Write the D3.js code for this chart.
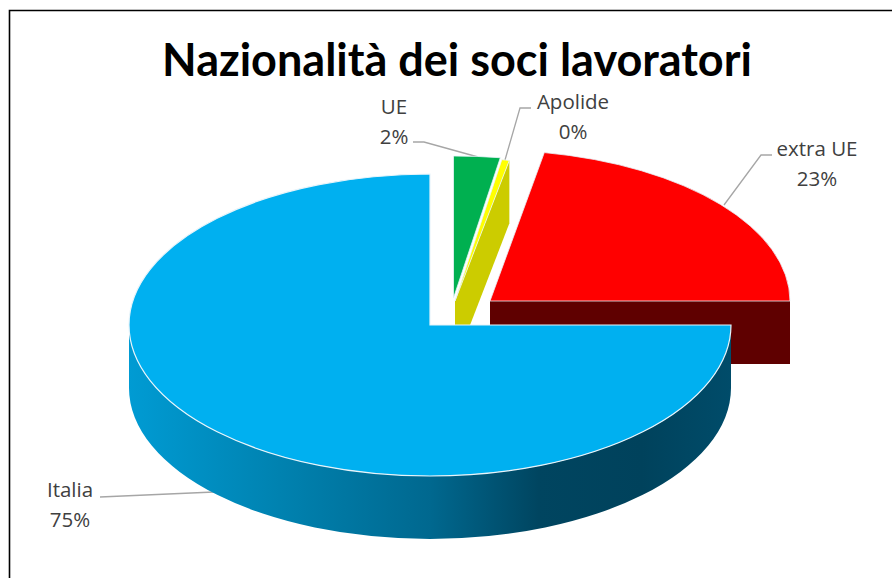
<!DOCTYPE html>
<html>
<head>
    <meta charset="utf-8">
    <script src="https://d3js.org/d3.v7.min.js"></script>
    <style>
      html, body { margin: 0; padding: 0; background: #fff; }
      svg { display: block; }
      .label { font-family: "Open Sans", "Noto Sans", sans-serif; font-size: 20.5px; fill: #404040; }
      .title { font-family: Lato, "Open Sans", sans-serif; font-weight: 700; font-size: 45px; fill: #000; }
    </style>
</head>
<body>
    <div id="chart"></div>
    <script>
      // values (the 3D view squeezes the small slices)
      var categories = ['Italia', 'UE', 'Apolide', 'extra UE'];
      var shares = [75, 2.5, 0.4, 22.1];
      var shareLabels = ['75%', '2%', '0%', '23%'];
      var titleText = 'Nazionalità dei soci lavoratori';

      var topColors = ['#00b0f0', '#00b050', '#ffff00', '#ff0000'];
      var sideColors = ['url(#wall)', '#008a45', '#cccc00', '#5f0000'];

      var width = 892;
      var height = 578;
      var depth = 63;

      // exploded slices: apex and radii of each one on screen
      var layout = [
        { cx: 430, cy: 325, rx: 301, ry: 151 },
        { cx: 453.5, cy: 298, rx: 300, ry: 142 },
        { cx: 455, cy: 301, rx: 300, ry: 143 },
        { cx: 490, cy: 301, rx: 300, ry: 151 }
      ];

      // label anchors and their leader lines
      var labelPos = [
        { x: 70, y: 497, line: [[100, 497], [214, 492]] },
        { x: 394, y: 114, line: [[413, 142], [424, 142], [478, 157]] },
        { x: 573, y: 109, line: [[531, 108], [520, 108], [505, 160]] },
        { x: 817, y: 156, line: [[772, 155], [761, 155], [724, 205]] }
      ];

      var svg = d3.select('#chart').append('svg')
        .attr('width', width)
        .attr('height', height);

      var grad = svg.append('defs').append('linearGradient')
        .attr('id', 'wall')
        .attr('gradientUnits', 'userSpaceOnUse')
        .attr('x1', 129).attr('x2', 732).attr('y1', 0).attr('y2', 0);
      [[0, '#009bd3'], [0.25, '#0082b0'], [0.5, '#00688f'], [0.68, '#004560'], [0.85, '#00425c'], [1, '#004c6a']]
        .forEach(function(s) {
          grad.append('stop').attr('offset', s[0]).attr('stop-color', s[1]);
        });

      // frame, open on the right and the bottom
      svg.append('path')
        .attr('d', 'M9.5,578V10.5H892')
        .attr('fill', 'none')
        .attr('stroke', '#000')
        .attr('stroke-width', 1.6);

      svg.append('text')
        .attr('class', 'title')
        .attr('x', 457)
        .attr('y', 76)
        .attr('text-anchor', 'middle')
        .text(titleText);

      var pie = d3.pie()
        .value(function(d) { return d; })
        .sort(null)
        .startAngle(Math.PI / 2)
        .endAngle(Math.PI * 2.5);

      var slices = pie(shares);

      // unit arc, stretched into an ellipse per slice
      var arc = d3.arc().innerRadius(0).outerRadius(1);

      function rim(i, a) {
        var l = layout[i];
        return [l.cx + l.rx * Math.sin(a), l.cy - l.ry * Math.cos(a)];
      }

      // side surface of a slice: a cut face, or the curved wall for Italia
      function sidePath(d, i) {
        var l = layout[i];
        if (i === 0) {
          var a = rim(0, d.startAngle);
          var b = rim(0, 3 * Math.PI / 2);
          return 'M' + a + 'A' + l.rx + ',' + l.ry + ' 0 0 1 ' + b +
            'V' + (b[1] + depth) +
            'A' + l.rx + ',' + l.ry + ' 0 0 0 ' + [a[0], a[1] + depth] + 'Z';
        }
        var p = rim(i, d.endAngle);
        return 'M' + [l.cx, l.cy] + 'L' + p + 'V' + (p[1] + depth) +
          'L' + [l.cx, l.cy + depth] + 'Z';
      }

      // leader lines go under the slices
      svg.selectAll('.leader')
        .data(labelPos)
        .enter()
        .append('path')
        .attr('class', 'leader')
        .attr('d', function(d) { return d3.line()(d.line); })
        .attr('fill', 'none')
        .attr('stroke', '#a6a6a6')
        .attr('stroke-width', 1.3);

      // back slices first, Italia last so that it covers their walls
      var order = [3, 2, 1, 0];

      order.forEach(function(i) {
        var d = slices[i];
        if (i !== 1) {
          svg.append('path')
            .attr('d', sidePath(d, i))
            .attr('fill', sideColors[i]);
        }
        svg.append('path')
          .attr('d', arc(d))
          .attr('transform', 'translate(' + layout[i].cx + ',' + layout[i].cy + ') scale(' + layout[i].rx + ',' + layout[i].ry + ')')
          .attr('fill', topColors[i])
          .attr('stroke', '#e8f4fa')
          .attr('stroke-width', i === 0 ? 1.2 : 0.8)
          .attr('vector-effect', 'non-scaling-stroke');
      });

      var labels = svg.selectAll('.label')
        .data(categories)
        .enter()
        .append('g')
        .attr('class', 'label')
        .attr('text-anchor', 'middle');

      labels.append('text')
        .attr('x', function(d, i) { return labelPos[i].x; })
        .attr('y', function(d, i) { return labelPos[i].y; })
        .text(function(d) { return d; });

      labels.append('text')
        .attr('x', function(d, i) { return labelPos[i].x; })
        .attr('y', function(d, i) { return labelPos[i].y + 30; })
        .text(function(d, i) { return shareLabels[i]; });
    </script>
</body>
</html>
